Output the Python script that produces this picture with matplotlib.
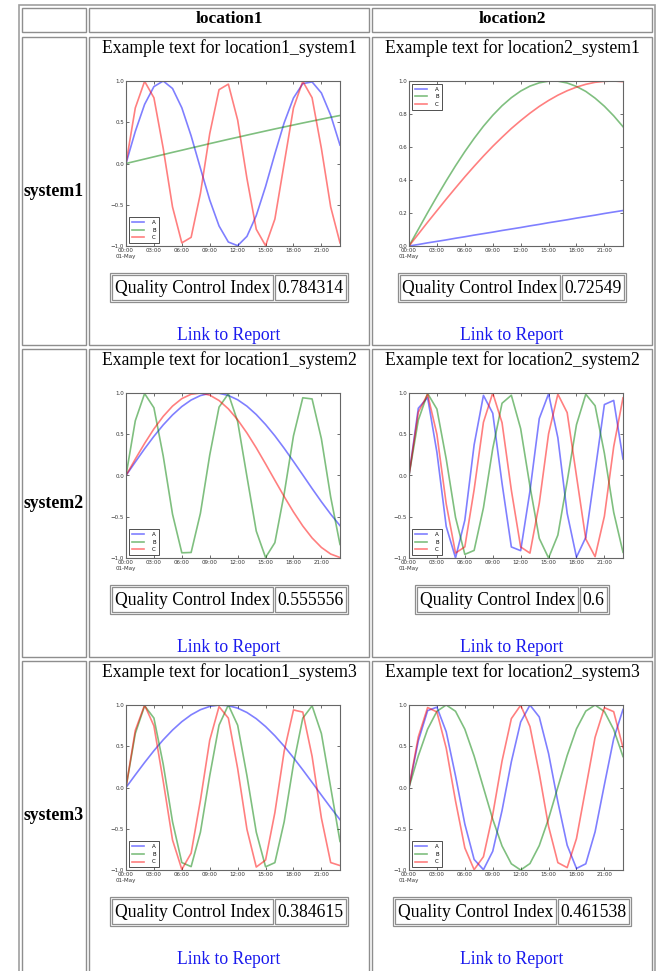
import matplotlib
matplotlib.use("Agg")
import matplotlib.pyplot as plt
from matplotlib.patches import Rectangle

# hourly samples on 01-May
hours = [0, 1, 2, 3, 4, 5, 6, 7, 8, 9, 10, 11, 12, 13, 14, 15, 16, 17, 18, 19, 20, 21, 22, 23]
tick_hours = [0, 3, 6, 9, 12, 15, 18, 21]
tick_labels = ['00:00\n01-May', '03:00', '06:00', '09:00', '12:00', '15:00', '18:00', '21:00']

locations = ['location1', 'location2']
systems = ['system1', 'system2', 'system3']

# location1 / system1
l1s1_a = [0.0, 0.389, 0.717, 0.932, 1.0, 0.909, 0.675, 0.335, -0.058, -0.443, -0.757, -0.952,
          -0.996, -0.883, -0.631, -0.279, 0.117, 0.494, 0.794, 0.968, 0.989, 0.855, 0.585, 0.223]
l1s1_b = [0.0, 0.027, 0.054, 0.081, 0.108, 0.135, 0.161, 0.188, 0.214, 0.241, 0.267, 0.293,
          0.318, 0.344, 0.369, 0.394, 0.419, 0.443, 0.467, 0.491, 0.514, 0.537, 0.560, 0.582]
l1s1_c = [0.0, 0.674, 0.996, 0.797, 0.183, -0.527, -0.962, -0.895, -0.362, 0.362, 0.895, 0.962,
          0.527, -0.183, -0.797, -0.996, -0.674, 0.0, 0.674, 0.996, 0.797, 0.183, -0.527, -0.962]
# location2 / system1
l2s1_a = [0.0, 0.009, 0.019, 0.028, 0.037, 0.047, 0.056, 0.066, 0.075, 0.084, 0.094, 0.103,
          0.112, 0.122, 0.131, 0.141, 0.150, 0.159, 0.169, 0.178, 0.187, 0.197, 0.206, 0.215]
l2s1_b = [0.0, 0.101, 0.202, 0.300, 0.395, 0.486, 0.572, 0.652, 0.726, 0.792, 0.850, 0.899,
          0.939, 0.969, 0.989, 0.999, 0.999, 0.988, 0.967, 0.937, 0.896, 0.847, 0.789, 0.723]
l2s1_c = [0.0, 0.072, 0.144, 0.214, 0.284, 0.352, 0.419, 0.483, 0.545, 0.604, 0.659, 0.712,
          0.760, 0.805, 0.846, 0.882, 0.914, 0.941, 0.963, 0.980, 0.992, 0.998, 1.0, 0.996]
# location1 / system2
l1s2_a = [0.0, 0.164, 0.324, 0.475, 0.613, 0.734, 0.836, 0.915, 0.969, 0.996, 0.997, 0.970,
          0.918, 0.840, 0.739, 0.618, 0.481, 0.330, 0.170, 0.007, -0.158, -0.318, -0.469, -0.608]
l1s2_b = [0.0, 0.664, 0.993, 0.821, 0.236, -0.469, -0.937, -0.933, -0.457, 0.248, 0.829, 0.991,
          0.654, -0.014, -0.674, -0.994, -0.814, -0.222, 0.481, 0.942, 0.928, 0.445, -0.262, -0.836]
l1s2_c = [0.0, 0.199, 0.389, 0.565, 0.717, 0.841, 0.932, 0.985, 1.0, 0.974, 0.909, 0.808,
          0.675, 0.515, 0.335, 0.141, -0.058, -0.255, -0.442, -0.612, -0.757, -0.872, -0.952, -0.994]
# location2 / system2
l2s2_a = [0.0, 0.815, 0.945, 0.281, -0.618, -0.999, -0.542, 0.372, 0.971, 0.755, -0.095, -0.866,
          -0.911, -0.189, 0.690, 0.990, 0.457, -0.459, -0.990, -0.750, 0.050, 0.860, 0.910, 0.200]
l2s2_b = [0.0, 0.671, 0.995, 0.805, 0.200, -0.508, -0.956, -0.908, -0.392, 0.326, 0.876, 0.973,
          0.568, -0.130, -0.762, -1.0, -0.722, -0.071, 0.616, 0.985, 0.846, 0.269, -0.446, -0.931]
l2s2_c = [0.0, 0.766, 0.985, 0.499, -0.344, -0.940, -0.865, -0.171, 0.645, 1.0, 0.640, -0.178,
          -0.866, -0.941, -0.337, 0.505, 0.986, 0.762, -0.006, -0.770, -0.984, -0.494, 0.349, 0.942]
# location1 / system3
l1s3_a = [0.0, 0.153, 0.303, 0.446, 0.578, 0.696, 0.798, 0.881, 0.943, 0.983, 1.0, 0.992,
          0.962, 0.909, 0.834, 0.739, 0.627, 0.500, 0.361, 0.214, 0.062, -0.092, -0.244, -0.390]
l1s3_b = [0.0, 0.655, 0.990, 0.842, 0.281, -0.415, -0.910, -0.959, -0.541, 0.143, 0.756, 1.0,
          0.755, 0.142, -0.541, -0.961, -0.911, -0.415, 0.282, 0.841, 0.990, 0.654, 0.0, -0.654]
l1s3_c = [0.0, 0.693, 0.999, 0.747, 0.077, -0.636, -0.993, -0.796, -0.154, 0.574, 0.981, 0.841,
          0.230, -0.508, -0.964, -0.880, -0.305, 0.440, 0.940, 0.914, 0.378, -0.370, -0.910, -0.946]
# location2 / system3
l2s3_a = [0.0, 0.565, 0.932, 0.974, 0.675, 0.141, -0.443, -0.872, -0.996, -0.773, -0.279, 0.312,
          0.794, 0.999, 0.855, 0.412, -0.175, -0.700, -0.981, -0.925, -0.537, 0.034, 0.592, 0.946]
l2s3_b = [0.0, 0.383, 0.707, 0.924, 1.0, 0.924, 0.707, 0.381, -0.002, -0.385, -0.709, -0.925,
          -1.0, -0.922, -0.704, -0.378, 0.005, 0.388, 0.711, 0.926, 1.0, 0.921, 0.703, 0.375]
l2s3_c = [0.0, 0.614, 0.969, 0.916, 0.477, -0.163, -0.732, -0.996, -0.839, -0.328, 0.321, 0.835,
          0.997, 0.739, 0.170, -0.471, -0.911, -0.971, -0.619, -0.007, 0.608, 0.968, 0.919, 0.484]

qci_values = [[0.784314, 0.72549],
              [0.555556, 0.6],
              [0.384615, 0.461538]]

series = [[(l1s1_a, l1s1_b, l1s1_c), (l2s1_a, l2s1_b, l2s1_c)],
          [(l1s2_a, l1s2_b, l1s2_c), (l2s2_a, l2s2_b, l2s2_c)],
          [(l1s3_a, l1s3_b, l1s3_c), (l2s3_a, l2s3_b, l2s3_c)]]

# ---- layout in screen pixels ----
W, H = 657, 971
fig = plt.figure(figsize=(W / 100, H / 100), dpi=100)
serif = ['Liberation Serif', 'DejaVu Serif']
border = '#8e8e8e'
fs = 12.7


def fx(x):
    return x / W


def fy(y):
    return 1 - y / H


def box(x0, y0, x1, y1, lw=1.0, color=border):
    fig.patches.append(Rectangle((fx(x0), fy(y1)), (x1 - x0) / W, (y1 - y0) / H,
                                 transform=fig.transFigure, fill=False,
                                 edgecolor=color, linewidth=lw))


cols = [(22, 86), (89, 369), (372, 652)]
header = (8, 32)
rows = [(37, 345), (349, 657), (661, 985)]

box(19, 5, 655, 990, lw=1.2, color='#a0a0a0')
for c0, c1 in cols:
    box(c0, header[0], c1, header[1])
    for r0, r1 in rows:
        box(c0, r0, c1, r1)

for j, loc in enumerate(locations):
    cx = (cols[j + 1][0] + cols[j + 1][1]) / 2
    fig.text(fx(cx), fy(19), loc, ha='center', va='center', family=serif,
             fontsize=12.5, fontweight='bold')

for i, sysname in enumerate(systems):
    r0, r1 = rows[i]
    fig.text(fx(54), fy((r0 + min(r1, 969)) / 2), sysname,
             ha='center', va='center', family=serif, fontsize=12.8, fontweight='bold')

renderer = fig.canvas.get_renderer()
ax_left = [126, 409]
ax_w = 214
ax_h = 165

for i, sysname in enumerate(systems):
    top = rows[i][0]
    for j, loc in enumerate(locations):
        c0, c1 = cols[j + 1]
        cx = (c0 + c1) / 2
        fig.text(fx(cx), fy(top + 11), 'Example text for %s_%s' % (loc, sysname),
                 ha='center', va='center', family=serif, fontsize=fs)

        # plot
        ax = fig.add_axes([fx(ax_left[j]), fy(top + 44 + ax_h), ax_w / W, ax_h / H])
        a, b, c = series[i][j]
        ax.plot(hours, a, color='b', alpha=0.5, lw=1.2, label='A')
        ax.plot(hours, b, color='g', alpha=0.5, lw=1.2, label='B')
        ax.plot(hours, c, color='r', alpha=0.5, lw=1.2, label='C')
        ax.set_xlim(0, 23)
        if i == 0 and j == 1:
            ax.set_ylim(0, 1)
            ax.set_yticks([0.0, 0.2, 0.4, 0.6, 0.8, 1.0])
            leg_loc = 'upper left'
        else:
            ax.set_ylim(-1, 1)
            ax.set_yticks([-1.0, -0.5, 0.0, 0.5, 1.0])
            leg_loc = 'lower left'
        ax.set_xticks(tick_hours)
        ax.set_xticklabels(tick_labels)
        ax.tick_params(direction='in', length=2, width=0.5, labelsize=4, pad=1.5,
                       top=True, right=True, colors='#333333')
        for s in ax.spines.values():
            s.set_color('#666666')
            s.set_linewidth(0.8)
        leg = ax.legend(loc=leg_loc, fontsize=4, handlelength=2.2, handletextpad=1.5,
                        borderpad=0.5, labelspacing=0.5, borderaxespad=0.5,
                        fancybox=False, framealpha=1)
        leg.get_frame().set_edgecolor('#333333')
        leg.get_frame().set_linewidth(0.6)

        # quality control index table
        ty = top + 251
        t1 = fig.text(0, fy(ty), 'Quality Control Index', ha='left', va='center',
                      family=serif, fontsize=fs)
        t2 = fig.text(0, fy(ty), str(qci_values[i][j]), ha='left', va='center',
                      family=serif, fontsize=fs)
        w1 = t1.get_window_extent(renderer).width
        w2 = t2.get_window_extent(renderer).width
        pad, gap = 2.5, 2
        total = w1 + w2 + 4 * pad + gap
        x0 = cx - total / 2
        box(x0, top + 238, x0 + w1 + 2 * pad, top + 263, lw=0.9)
        box(x0 + w1 + 2 * pad + gap, top + 238, x0 + total, top + 263, lw=0.9)
        box(x0 - 2, top + 236, x0 + total + 2, top + 265, lw=0.9)
        t1.set_x(fx(x0 + pad))
        t2.set_x(fx(x0 + w1 + 3 * pad + gap))

        fig.text(fx(cx), fy(top + 298), 'Link to Report', ha='center', va='center',
                 family=serif, fontsize=fs, color='#1a1aee')

fig.savefig('out.png', dpi=100, facecolor='white')
